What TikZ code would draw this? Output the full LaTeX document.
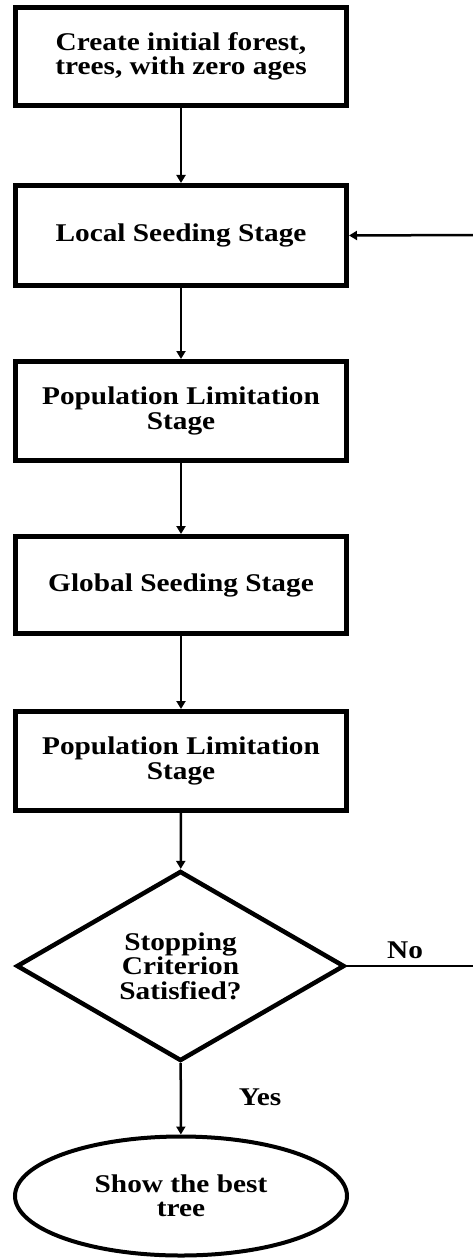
\documentclass[tikz,border=0pt]{standalone}
\usepackage{fontspec}
\setmainfont{Liberation Serif}[FakeStretch=1.15]
\usetikzlibrary{shapes.geometric,arrows.meta}

\begin{document}
\begin{tikzpicture}[x=1pt,y=-1pt,
  every node/.style={font=\fontsize{25.5}{24.5}\selectfont\bfseries, align=center},
  stagebox/.style={draw, line width=5pt, minimum width=331pt, inner sep=0pt},
  decision/.style={draw, diamond, line width=4.5pt, minimum width=328pt, minimum height=190pt, inner sep=0pt},
  terminal/.style={draw, ellipse, line width=4pt, minimum width=332pt, minimum height=119pt, inner sep=0pt},
  flow/.style={line width=2.5pt, -{Triangle[length=8pt,width=9pt]}},
  plain/.style={line width=2.5pt},
  tag/.style={font=\fontsize{25.5}{24.5}\selectfont\bfseries}
]
\useasboundingbox (0,0) rectangle (473,1260);

\node[stagebox, minimum height=98pt]  (init)   at (181,56.5) {Create initial forest,\\trees, with zero ages};
\node[stagebox, minimum height=100pt] (local)  at (181,235.5) {Local Seeding Stage};
\node[stagebox, minimum height=99pt]  (limA)   at (181,411) {Population Limitation\\Stage};
\node[stagebox, minimum height=97pt]  (global) at (181,585) {Global Seeding Stage};
\node[stagebox, minimum height=99pt]  (limB)   at (181,761) {Population Limitation\\Stage};
\node[decision] (stop) at (180.5,966) {Stopping\\Criterion\\Satisfied?};
\node[terminal] (best) at (181,1196) {Show the best\\tree};

\draw[flow] (init) -- (local);
\draw[flow] (local) -- (limA);
\draw[flow] (limA) -- (global);
\draw[flow] (global) -- (limB);
\draw[flow] (limB) -- (stop);
\draw[flow] (stop) -- (best);

% loop back to local seeding, running past the right edge
\coordinate (noout) at (473,966);
\coordinate (loopin) at (473,235);
\draw[plain] (stop.east) -- (noout);
\draw[flow] (loopin) -- (local.east);

\node[tag] (nolbl) at (405,950) {No};
\node[tag] (yeslbl) at (260,1097) {Yes};
\end{tikzpicture}
\end{document}
